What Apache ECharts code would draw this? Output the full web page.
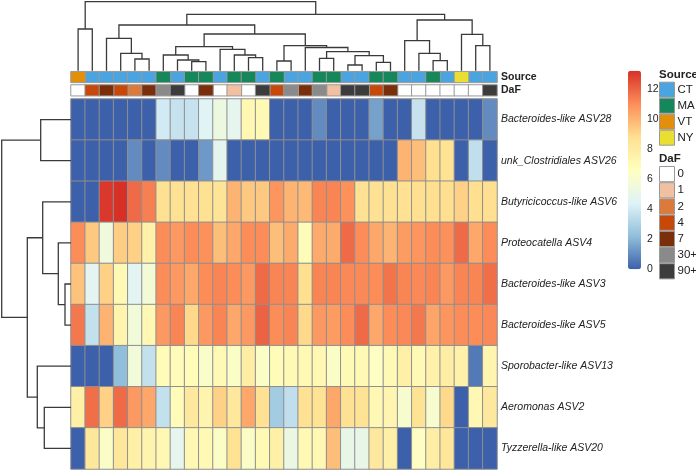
<!DOCTYPE html>
<html>
<head>
<meta charset="utf-8">
<title>ASV heatmap</title>
<script src="https://cdn.jsdelivr.net/npm/echarts@6.0.0/dist/echarts.min.js"></script>
<style>
html, body { margin: 0; padding: 0; background: #fff; }
#heatmap { width: 696px; height: 471px; }
</style>
</head>
<body>
<div id="heatmap"></div>
<script>
// rows, top to bottom (already in dendrogram order)
var asvNames = [
    'Bacteroides-like ASV28', 'unk_Clostridiales ASV26', 'Butyricicoccus-like ASV6',
    'Proteocatella ASV4', 'Bacteroides-like ASV3', 'Bacteroides-like ASV5',
    'Sporobacter-like ASV13', 'Aeromonas ASV2', 'Tyzzerella-like ASV20'
];
// samples, left to right (dendrogram order)
var samples = ['s01','s02','s03','s04','s05','s06','s07','s08','s09','s10',
               's11','s12','s13','s14','s15','s16','s17','s18','s19','s20',
               's21','s22','s23','s24','s25','s26','s27','s28','s29','s30'];
var sourceOfSample = ['VT','CT','CT','CT','CT','CT','MA','CT','MA','MA',
                      'CT','MA','MA','CT','MA','CT','CT','MA','MA','CT',
                      'CT','MA','MA','CT','CT','MA','CT','NY','CT','CT'];
var dafOfSample = ['0','4','7','4','2','7','30+','90+','0','7',
                   '0','1','0','90+','4','30+','7','30+','1','90+',
                   '90+','4','7','0','0','0','0','0','0','90+'];
var sourceLevels = ['CT', 'MA', 'VT', 'NY'];
var sourceColors = ['#4ba3e0', '#15875a', '#e28f0c', '#eade32'];
var dafLevels = ['0', '1', '2', '4', '7', '30+', '90+'];
var dafColors = ['#ffffff', '#f0c0a0', '#dc7a3c', '#c8480a', '#7a2e0a', '#8a8a8a', '#3c3c3c'];

// cell values (one array per ASV row, 30 samples each)
var abundance = [
    [0,0,0,0,0,0, 4.0,3.7,3.7,4.5,5.3,4.8,7.2,7.0,0,0, 0,1.0,0,0,0,1.5,0,0,3.7,0,0,0,0,1.0],
    [0,0,0,0,1.0,0,1.0,0,0,1.3,4.7,0,0,0,0,0, 0,0,0,0,0,0,0, 10.0,9.7,8.8,8.6,0,3.5,0],
    [0,0,13.0,13.3,11.8,11.3, 8.7,8.7,8.7,8.7,8.5, 10.0,9.4,9.4,10.8,10.0, 9.8,11.2,11.2,10.9, 8.7,8.7,8.7,8.7,8.8,8.8,8.8,9.2,8.8,8.8],
    [11.0,9.4,5.5,9.3,9.2,7.6, 11.0,10.7,11.0,10.9,9.7,10.3,11.0,11.0,9.7, 10.2,6.9,10.2,10.2,11.8,11.0,10.3,10.0,10.6,10.8,11.0,10.9,11.8,10.3,11.0],
    [9.6,4.6,9.2,7.0,4.6,5.7, 11.0,10.7,10.3,11.0,11.2,11.0,10.7,11.8,11.2, 11.2,8.8,11.2,11.2,11.1,11.1,11.0,11.6,11.2,11.1,11.2,10.7,11.2,11.2,11.7],
    [11.5,3.6,10.0,7.4,5.6,7.1, 10.7,11.2,9.0,10.7,11.2,10.3,10.7,12.0,11.0, 11.2,9.0,10.7,10.6,11.0,11.8,10.3,11.0,11.1,11.5,10.4,10.8,11.0,11.0,11.1],
    [0,0,0,2.2,5.6,3.6, 6.9,6.9,6.9,6.2,7.0,6.3,7.8,6.3,6.9, 7.0,7.0,7.1,6.3,7.0,7.0,6.4,7.0,7.7,7.0,7.6,7.8,7.6,0.6,7.3],
    [7.7,11.7,9.2,11.8,10.7,10.3, 3.6,6.9,8.2,7.4,9.2,8.2,10.3,8.7,2.7, 3.5,8.7,8.6,10.3,8.7,8.6,7.1,7.3,6.0,8.6,6.0,9.0,0,7.1,8.2],
    [0,8.3,6.3,8.3,7.7,7.4, 7.1,4.8,7.1,7.0,6.3,8.6,6.3,7.0,7.7, 5.2,7.0,7.1,9.7,5.0,5.0,8.2,7.7,0,6.4,7.8,8.3,0,0,0]
];

// colour scale (low -> high) and its limits
var heatColors = ['#3c60aa', '#91bfdb', '#e0f3f8', '#ffffbf', '#fee090', '#fc8d59', '#d73027'];
var heatMin = 0;
var heatMax = 13.2;
var colorbarTicks = 2;

// hclust-like merge tables: negative = leaf (1-based), positive = earlier merge row, then height
var colMerge = [
    [-20, -21, 5.7], [-22, -23, 8.4], [-9, -10, 9.0], [-15, -16, 9.7], [-26, -27, 10.0],
    [-8, 3, 10.7], [-5, -6, 11.7], [-18, -19, 12.4], [-13, -14, 13.0], [1, 2, 15.0],
    [-7, 6, 15.7], [-12, 9, 15.7], [-4, 7, 17.4], [-25, 5, 17.4], [8, 10, 19.0],
    [-11, 12, 21.4], [-17, 15, 23.2], [11, 16, 24.0], [4, 17, 25.0], [-29, -30, 25.0],
    [-24, 14, 30.0], [-3, 13, 32.4], [-28, 20, 36.4], [18, 19, 36.7], [-1, -2, 41.7],
    [22, 24, 45.7], [21, 23, 50.7], [26, 27, 56.4], [25, 28, 69.0]
];
var rowMerge = [
    [-5, -6, 6.0], [-4, 1, 12.7], [-8, -9, 26.7], [-3, 2, 28.3],
    [-1, -2, 30.3], [-7, 3, 33.7], [4, 6, 43.7], [5, 7, 69.3]
];

// --- build series data from the arrays above ---
var cells = [];
abundance.forEach(function (row, r) {
    row.forEach(function (v, c) { cells.push([c, r, v]); });
});

function annotSeries(levels, colors, perSample, axisIdx) {
    return levels.map(function (lv, i) {
        var d = [];
        perSample.forEach(function (s, c) { if (s === lv) d.push([c, 0, 1]); });
        return {
            name: lv, type: 'heatmap', xAxisIndex: axisIdx, yAxisIndex: axisIdx,
            color: colors[i],
            itemStyle: { color: colors[i], borderColor: '#999', borderWidth: 1 },
            emphasis: { disabled: true },
            data: d
        };
    });
}

// U-shaped segments for each merge; swap=true puts height on x
function dendroLines(merge, swap) {
    var pos = [], hgt = [], out = [];
    function node(id) { return id < 0 ? [-id - 0.5, 0] : [pos[id - 1], hgt[id - 1]]; }
    merge.forEach(function (m, k) {
        var a = node(m[0]), b = node(m[1]), h = m[2];
        pos[k] = (a[0] + b[0]) / 2;
        hgt[k] = h;
        var pts = [[a[0], a[1]], [a[0], h], [b[0], h], [b[0], b[1]]];
        if (swap) pts = pts.map(function (p) { return [p[1], p[0]]; });
        out.push({ coords: pts });
    });
    return out;
}

var txt = '#222';
var font = 10.5;
var legendFont = 11.5;
var hidden = { show: false };

var chart = echarts.init(document.getElementById('heatmap'));
var option = {
    animation: false,
    textStyle: { fontFamily: 'Liberation Sans, Arial, sans-serif' },
    title: [
        { text: 'Source', left: 659, top: 69, padding: 0,
          textStyle: { fontSize: legendFont, fontWeight: 'bold', color: txt } },
        { text: 'DaF', left: 659, top: 153, padding: 0,
          textStyle: { fontSize: legendFont, fontWeight: 'bold', color: txt } }
    ],
    legend: [
        { data: sourceLevels, orient: 'vertical', left: 659, top: 81.7, padding: 0,
          icon: 'rect', itemWidth: 15, itemHeight: 15, itemGap: 0, selectedMode: false,
          itemStyle: { borderColor: '#999', borderWidth: 1 },
          textStyle: { fontSize: legendFont, color: txt, padding: [0, 0, 0, -2] } },
        { data: dafLevels, orient: 'vertical', left: 659, top: 166, padding: 0,
          icon: 'rect', itemWidth: 15, itemHeight: 15.2, itemGap: 0, selectedMode: false,
          itemStyle: { borderColor: '#999', borderWidth: 1 },
          textStyle: { fontSize: legendFont, color: txt, padding: [0, 0, 0, -2] } }
    ],
    visualMap: {
        type: 'continuous', seriesIndex: 0, min: heatMin, max: heatMax,
        orient: 'vertical', left: 628, top: 70.7, padding: 0,
        itemWidth: 13, itemHeight: 198.6, calculable: false, hoverLink: false,
        inRange: { color: heatColors }
    },
    grid: [
        { left: 71, top: 99, width: 426, height: 370, outerBoundsMode: 'none' },    // cells
        { left: 71, top: 71.7, width: 426, height: 10.7, outerBoundsMode: 'none' }, // Source
        { left: 71, top: 85, width: 426, height: 10.7, outerBoundsMode: 'none' },   // DaF
        { left: 71, top: 1, width: 426, height: 69.7, outerBoundsMode: 'none' },    // col tree
        { left: 1, top: 99, width: 70, height: 370, outerBoundsMode: 'none' },      // row tree
        { left: 628, top: 70.7, width: 13, height: 198.6, outerBoundsMode: 'none' } // colour bar
    ],
    xAxis: [
        { type: 'category', gridIndex: 0, data: samples, show: false },
        { type: 'category', gridIndex: 1, data: samples, show: false },
        { type: 'category', gridIndex: 2, data: samples, show: false },
        { type: 'value', gridIndex: 3, min: 0, max: samples.length, show: false },
        { type: 'value', gridIndex: 4, min: 0, max: 70, inverse: true, show: false },
        { type: 'value', gridIndex: 5, show: false }
    ],
    yAxis: [
        { type: 'category', gridIndex: 0, data: asvNames, inverse: true, position: 'right',
          axisLine: hidden, axisTick: hidden, splitLine: hidden,
          axisLabel: { fontSize: font, fontStyle: 'italic', color: txt, margin: 4 } },
        { type: 'category', gridIndex: 1, data: ['Source'], position: 'right',
          axisLine: hidden, axisTick: hidden,
          axisLabel: { fontSize: font, fontWeight: 'bold', color: txt, margin: 4 } },
        { type: 'category', gridIndex: 2, data: ['DaF'], position: 'right',
          axisLine: hidden, axisTick: hidden,
          axisLabel: { fontSize: font, fontWeight: 'bold', color: txt, margin: 4 } },
        { type: 'value', gridIndex: 3, min: 0, max: 69.7, show: false },
        { type: 'value', gridIndex: 4, min: 0, max: asvNames.length, inverse: true, show: false },
        { type: 'value', gridIndex: 5, min: heatMin, max: heatMax, interval: colorbarTicks,
          position: 'right', axisLine: hidden, axisTick: hidden, splitLine: hidden,
          axisLabel: { fontSize: font, color: txt, margin: 6, showMaxLabel: false } }
    ],
    series: [].concat(
        [{
            type: 'heatmap', xAxisIndex: 0, yAxisIndex: 0, data: cells,
            itemStyle: { borderColor: '#8f8f8f', borderWidth: 1 },
            emphasis: { disabled: true }
        }],
        annotSeries(sourceLevels, sourceColors, sourceOfSample, 1),
        annotSeries(dafLevels, dafColors, dafOfSample, 2),
        [{
            type: 'lines', coordinateSystem: 'cartesian2d', xAxisIndex: 3, yAxisIndex: 3,
            polyline: true, silent: true,
            lineStyle: { color: '#3a3a3a', width: 1.3, opacity: 1 },
            data: dendroLines(colMerge, false)
        }, {
            type: 'lines', coordinateSystem: 'cartesian2d', xAxisIndex: 4, yAxisIndex: 4,
            polyline: true, silent: true,
            lineStyle: { color: '#3a3a3a', width: 1.3, opacity: 1 },
            data: dendroLines(rowMerge, true)
        }]
    )
};
chart.setOption(option);
</script>
</body>
</html>
